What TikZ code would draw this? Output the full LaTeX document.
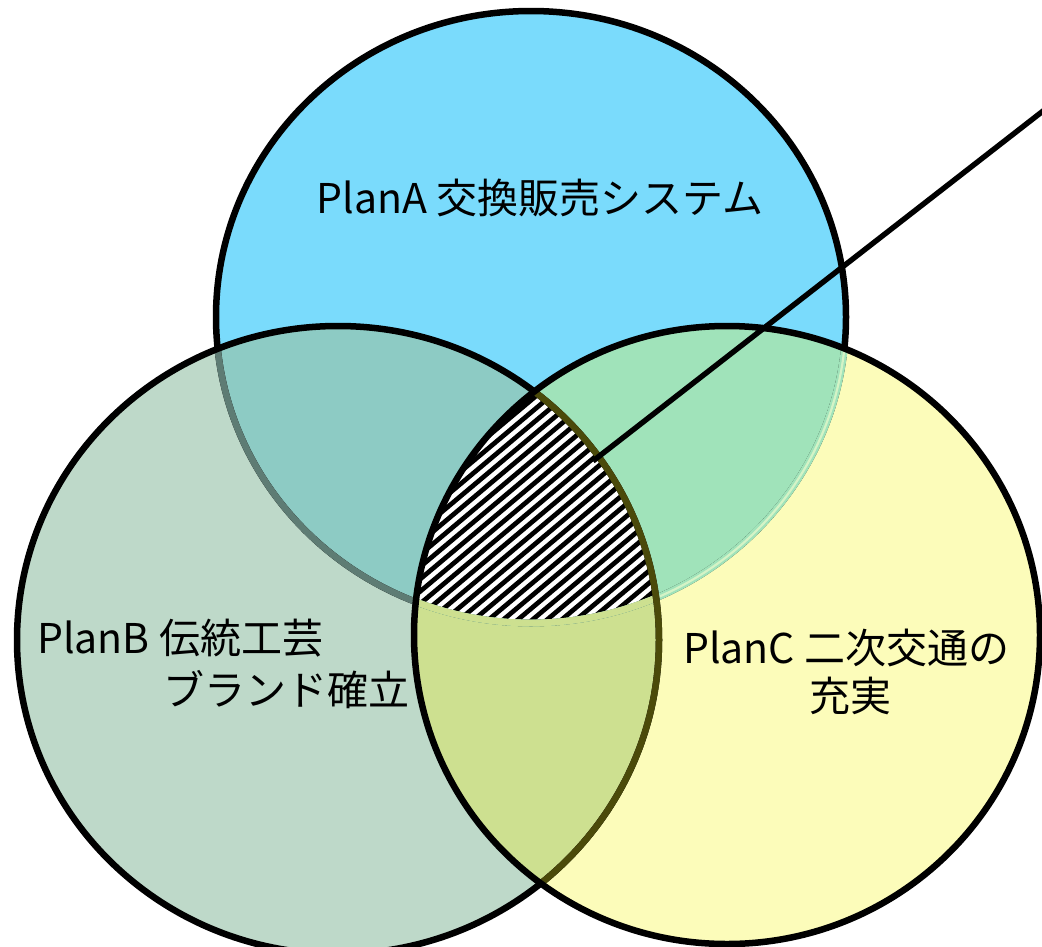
\documentclass[tikz,border=0pt]{standalone}
\usepackage{fontspec}
\setmainfont{Noto Sans CJK JP}
\definecolor{colA}{HTML}{7ADBFC}
\definecolor{colB}{HTML}{BED9C9}
\definecolor{colC}{HTML}{FCFCBA}
\definecolor{colAB}{HTML}{8DCBC4}
\definecolor{colAC}{HTML}{A0E3BA}
\definecolor{colBC}{HTML}{CDE090}
\definecolor{dimAB}{HTML}{5E7C74}
\definecolor{dimAC}{HTML}{D4F3C6}
\definecolor{oliveB}{HTML}{4B4A0A}
\def\pA{(531,317) ellipse [x radius=315pt, y radius=306pt]}
\def\pB{(338,640) ellipse [x radius=321pt, y radius=314pt]}
\def\pC{(727,635) ellipse [x radius=313pt, y radius=309pt]}
\begin{document}
\begin{tikzpicture}[x=1pt,y=-1pt,
  rim/.style={line width=6.5pt},
  stripe/.style={line width=4.7pt, black},
  lbl/.style={inner sep=0pt, font=\fontsize{41}{48}\selectfont, text=black},
  leader/.style={line width=5.4pt, black}]
\clip (0,0) rectangle (1042,946);
% base fills
\fill[colA] \pA;
\fill[colB] \pB;
\fill[colC] \pC;
\begin{scope}
  \clip \pA;
  \fill[colAB] \pB;
  \fill[colAC] \pC;
\end{scope}
\begin{scope}
  \clip \pB;
  \fill[colBC] \pC;
\end{scope}
% hatched common area
\begin{scope}
  \clip \pA; \clip \pB; \clip \pC;
  \fill[white] (380,370) rectangle (700,650);
  \foreach \i in {0,...,55} \draw[stripe] (\i*14.6-306,907) -- (\i*14.6+306,393);
\end{scope}
% labels
\node[lbl] (tA) at (540,198) {PlanA 交換販売システム};
\node[lbl, anchor=west] (tB1) at (37,638) {PlanB 伝統工芸};
\node[lbl, anchor=west] (tB2) at (163,690) {ブランド確立};
\node[lbl, anchor=west] (tC1) at (683,648) {PlanC 二次交通の};
\node[lbl] (tC2) at (850,696) {充実};
% outline of A
\draw[rim] \pA;
\begin{scope}
  \clip \pB;
  \draw[rim, dimAB] \pA;
\end{scope}
\begin{scope}
  \clip \pC;
  \draw[line width=6.7pt, colAC] \pA;
  \draw[line width=2.2pt, dimAC] \pA;
  \begin{scope}
    \clip \pB;
    \draw[line width=6.7pt, colBC] \pA;
  \end{scope}
\end{scope}
% outline of B
\draw[rim] \pB;
\begin{scope}
  \clip \pC;
  \draw[rim, oliveB] \pB;
\end{scope}
% outline of C
\draw[rim] \pC;
% leader line
\coordinate (hatchPt) at (593,461);
\coordinate (farEnd) at (1052,104);
\draw[leader] (hatchPt) -- (farEnd);
\end{tikzpicture}
\end{document}
